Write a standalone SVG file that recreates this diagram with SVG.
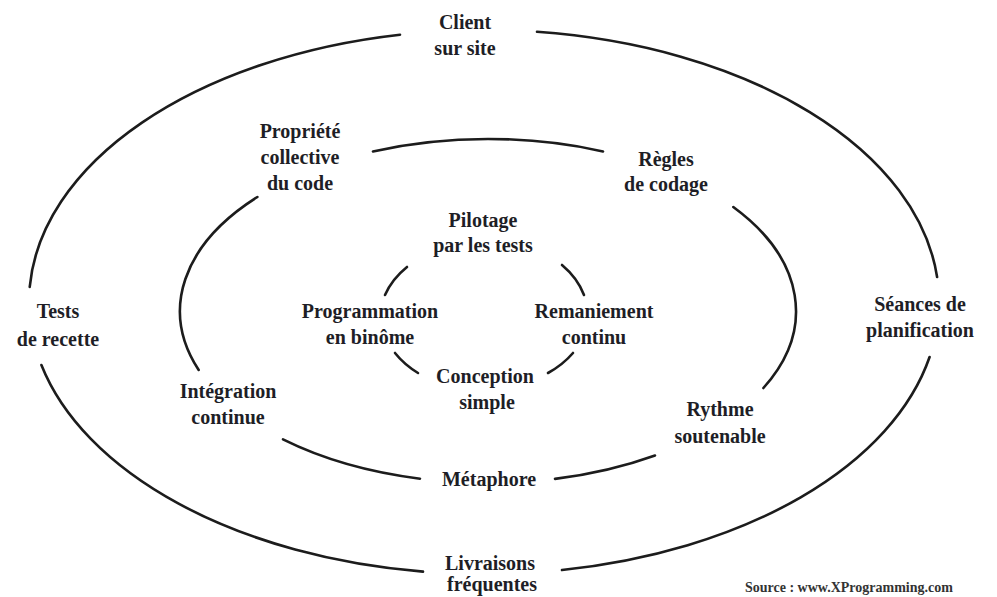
<svg xmlns="http://www.w3.org/2000/svg" width="997" height="597" viewBox="0 0 997 597">
  <style>
    .ring { fill: none; stroke: #1c1c1c; stroke-width: 2.6; stroke-linecap: round; }
    .lbl { font-family: "Liberation Serif", "Times New Roman", serif; font-weight: bold; font-size: 20px; fill: #1e1e26; text-anchor: middle; }
    .src { font-family: "Liberation Serif", "Times New Roman", serif; font-weight: bold; font-size: 14px; fill: #333; }
  </style>
  <rect width="997" height="597" fill="#ffffff"/>

  <!-- Three concentric rings, broken where the practices sit -->
  <g id="connectors">
    <!-- outer ring: cx 484, cy 302, rx 455, ry 272 -->
    <path class="ring" d="M 400 34.7 A 455 272 0 0 0 29.7 287"/>
    <path class="ring" d="M 41.4 365 A 455 272 0 0 0 423 571.6"/>
    <path class="ring" d="M 562 570 A 455 272 0 0 0 929.6 357"/>
    <path class="ring" d="M 937.1 277 A 455 272 0 0 0 537 31.8"/>
    <!-- middle ring: cx 488, cy 311, rx 308, ry 172 -->
    <path class="ring" d="M 373 151.4 A 308 172 0 0 1 603 151.4"/>
    <path class="ring" d="M 733.3 207 A 308 172 0 0 1 763.4 388"/>
    <path class="ring" d="M 655 455.5 A 308 172 0 0 1 555 478.9"/>
    <path class="ring" d="M 420 478.7 A 308 172 0 0 1 283 439.4"/>
    <path class="ring" d="M 198.7 370 A 308 172 0 0 1 257.4 197"/>
    <!-- inner ring: short strokes between the four core practices -->
    <path class="ring" d="M 385 295 A 102 76 0 0 1 407 267"/>
    <path class="ring" d="M 562 265 A 102 76 0 0 1 584 295"/>
    <path class="ring" d="M 573 353 A 102 76 0 0 1 548 373"/>
    <path class="ring" d="M 418 373 A 102 76 0 0 1 395 353"/>
  </g>

  <!-- outer ring practices -->
  <g id="client-sur-site">
    <text class="lbl" x="465" y="29">Client</text>
    <text class="lbl" x="465" y="55">sur site</text>
  </g>
  <g id="tests-de-recette">
    <text class="lbl" x="58" y="318">Tests</text>
    <text class="lbl" x="58" y="346">de recette</text>
  </g>
  <g id="seances-de-planification">
    <text class="lbl" x="920" y="311">Séances de</text>
    <text class="lbl" x="920" y="337">planification</text>
  </g>
  <g id="livraisons-frequentes">
    <text class="lbl" x="490" y="570">Livraisons</text>
    <text class="lbl" x="492" y="591">fréquentes</text>
  </g>

  <!-- middle ring practices -->
  <g id="propriete-collective">
    <text class="lbl" x="300" y="138">Propriété</text>
    <text class="lbl" x="300" y="164">collective</text>
    <text class="lbl" x="300" y="190">du code</text>
  </g>
  <g id="regles-de-codage">
    <text class="lbl" x="666" y="166">Règles</text>
    <text class="lbl" x="666" y="191">de codage</text>
  </g>
  <g id="integration-continue">
    <text class="lbl" x="228" y="398">Intégration</text>
    <text class="lbl" x="228" y="424">continue</text>
  </g>
  <g id="rythme-soutenable">
    <text class="lbl" x="720" y="416">Rythme</text>
    <text class="lbl" x="720" y="443">soutenable</text>
  </g>
  <g id="metaphore">
    <text class="lbl" x="489" y="486">Métaphore</text>
  </g>

  <!-- inner ring practices -->
  <g id="pilotage-par-les-tests">
    <text class="lbl" x="483" y="227">Pilotage</text>
    <text class="lbl" x="483" y="252">par les tests</text>
  </g>
  <g id="programmation-en-binome">
    <text class="lbl" x="370" y="318">Programmation</text>
    <text class="lbl" x="370" y="344">en binôme</text>
  </g>
  <g id="remaniement-continu">
    <text class="lbl" x="594" y="318">Remaniement</text>
    <text class="lbl" x="594" y="344">continu</text>
  </g>
  <g id="conception-simple">
    <text class="lbl" x="485" y="383">Conception</text>
    <text class="lbl" x="487" y="409">simple</text>
  </g>

  <text class="src" x="745" y="592">Source : www.XProgramming.com</text>
</svg>
